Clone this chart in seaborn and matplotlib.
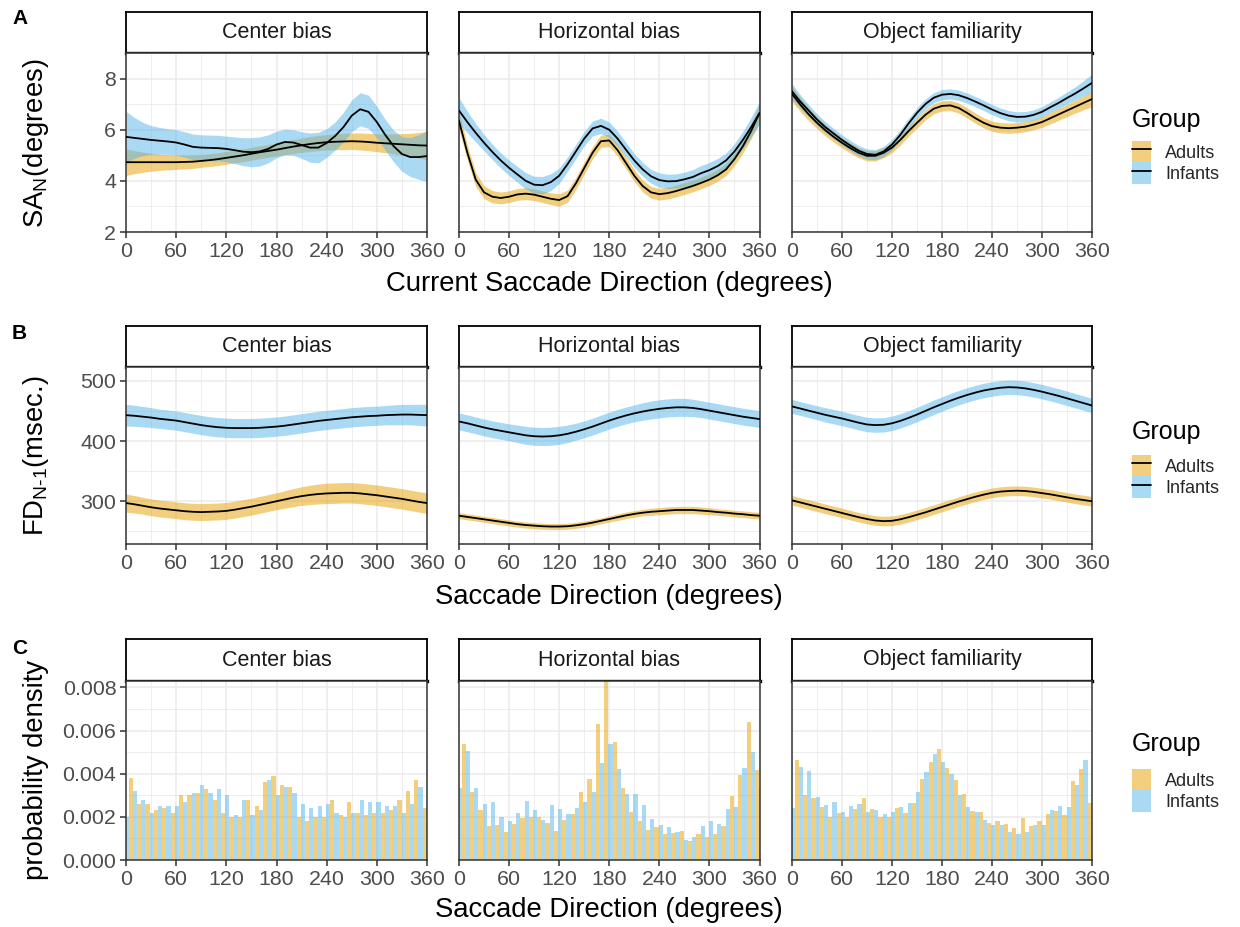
import numpy as np
import pandas as pd
import matplotlib
matplotlib.use("Agg")
import matplotlib.pyplot as plt
import seaborn as sns
from matplotlib.patches import Patch
from matplotlib.lines import Line2D
from matplotlib.legend_handler import HandlerTuple
from matplotlib.ticker import FixedLocator

# ---------------------------------------------------------------- data
FACETS = ["Center bias", "Horizontal bias", "Object familiarity"]
GROUPS = ["Adults", "Infants"]
X_DEG = list(range(0, 361, 10))

# Row A : SA_N (degrees)   mean and half-width of ribbon
A_CB_ADU = [4.73, 4.73, 4.73, 4.73, 4.73, 4.73, 4.73, 4.74, 4.75, 4.78,
            4.81, 4.85, 4.90, 4.95, 5.00, 5.06, 5.12, 5.17, 5.22, 5.28,
            5.34, 5.39, 5.44, 5.48, 5.51, 5.53, 5.54, 5.55, 5.54, 5.52,
            5.49, 5.47, 5.45, 5.43, 5.41, 5.39, 5.38]
A_CB_ADU_HW = [0.52, 0.45, 0.40, 0.35, 0.32, 0.30, 0.28, 0.27, 0.26, 0.25,
               0.25, 0.25, 0.25, 0.25, 0.25, 0.25, 0.25, 0.25, 0.25, 0.26,
               0.27, 0.28, 0.29, 0.30, 0.30, 0.31, 0.32, 0.32, 0.33, 0.34,
               0.35, 0.37, 0.39, 0.42, 0.45, 0.50, 0.55]
A_CB_INF = [5.72, 5.68, 5.64, 5.60, 5.57, 5.54, 5.50, 5.42, 5.33, 5.30,
            5.29, 5.28, 5.25, 5.20, 5.14, 5.12, 5.15, 5.25, 5.42, 5.52,
            5.50, 5.40, 5.30, 5.30, 5.48, 5.75, 6.10, 6.55, 6.80, 6.70,
            6.30, 5.80, 5.36, 5.05, 4.93, 4.93, 4.97]
A_CB_INF_HW = [1.00, 0.80, 0.65, 0.56, 0.52, 0.50, 0.50, 0.50, 0.50, 0.50,
               0.50, 0.50, 0.50, 0.52, 0.55, 0.57, 0.57, 0.55, 0.52, 0.50,
               0.50, 0.52, 0.57, 0.60, 0.56, 0.55, 0.58, 0.62, 0.65, 0.65,
               0.62, 0.60, 0.62, 0.68, 0.76, 0.87, 1.00]

A_HB_ADU = [6.35, 5.10, 4.05, 3.55, 3.38, 3.33, 3.38, 3.47, 3.50, 3.46,
            3.38, 3.30, 3.25, 3.40, 3.90, 4.50, 5.10, 5.55, 5.58, 5.20,
            4.70, 4.20, 3.80, 3.55, 3.48, 3.52, 3.60, 3.70, 3.80, 3.92,
            4.05, 4.22, 4.45, 4.85, 5.35, 5.95, 6.65]
A_HB_ADU_HW = [0.35, 0.30, 0.27, 0.25, 0.24, 0.23, 0.23, 0.23, 0.23, 0.23,
               0.23, 0.23, 0.24, 0.24, 0.24, 0.24, 0.24, 0.24, 0.24, 0.24,
               0.23, 0.23, 0.23, 0.23, 0.23, 0.23, 0.23, 0.23, 0.23, 0.23,
               0.23, 0.23, 0.24, 0.25, 0.27, 0.30, 0.35]
A_HB_INF = [6.75, 6.30, 5.88, 5.49, 5.13, 4.80, 4.51, 4.25, 4.00, 3.85,
            3.83, 3.95, 4.20, 4.65, 5.15, 5.65, 6.05, 6.15, 6.00, 5.65,
            5.22, 4.80, 4.45, 4.18, 4.03, 3.98, 3.99, 4.06, 4.15, 4.30,
            4.42, 4.58, 4.80, 5.15, 5.60, 6.10, 6.65]
A_HB_INF_HW = [0.50, 0.42, 0.36, 0.32, 0.30, 0.30, 0.30, 0.31, 0.32, 0.33,
               0.34, 0.33, 0.30, 0.28, 0.28, 0.28, 0.29, 0.30, 0.30, 0.29,
               0.28, 0.27, 0.27, 0.27, 0.28, 0.28, 0.28, 0.28, 0.29, 0.30,
               0.30, 0.30, 0.30, 0.31, 0.33, 0.38, 0.45]

A_OF_ADU = [7.40, 6.98, 6.60, 6.27, 5.98, 5.72, 5.49, 5.28, 5.10, 4.98,
            4.98, 5.10, 5.30, 5.60, 5.95, 6.27, 6.58, 6.82, 6.93, 6.95,
            6.85, 6.66, 6.45, 6.27, 6.14, 6.08, 6.06, 6.08, 6.12, 6.20,
            6.30, 6.45, 6.60, 6.75, 6.90, 7.05, 7.20]
A_OF_ADU_HW = [0.30, 0.27, 0.25, 0.23, 0.22, 0.21, 0.20, 0.20, 0.20, 0.20,
               0.20, 0.20, 0.20, 0.20, 0.20, 0.20, 0.20, 0.20, 0.20, 0.20,
               0.20, 0.20, 0.20, 0.20, 0.20, 0.20, 0.20, 0.20, 0.20, 0.20,
               0.21, 0.22, 0.23, 0.24, 0.25, 0.27, 0.30]
A_OF_INF = [7.50, 7.10, 6.75, 6.40, 6.10, 5.85, 5.60, 5.38, 5.18, 5.05,
            5.02, 5.15, 5.42, 5.80, 6.25, 6.66, 7.00, 7.25, 7.37, 7.40,
            7.35, 7.24, 7.10, 6.95, 6.79, 6.65, 6.55, 6.50, 6.51, 6.58,
            6.70, 6.88, 7.05, 7.24, 7.42, 7.62, 7.83]
A_OF_INF_HW = [0.30, 0.26, 0.23, 0.22, 0.21, 0.20, 0.20, 0.20, 0.20, 0.20,
               0.20, 0.20, 0.20, 0.20, 0.20, 0.20, 0.20, 0.20, 0.20, 0.20,
               0.20, 0.20, 0.20, 0.20, 0.20, 0.20, 0.20, 0.20, 0.20, 0.20,
               0.20, 0.21, 0.22, 0.24, 0.26, 0.30, 0.35]

# Row B : FD_{N-1} (msec.)
B_CB_ADU = [297, 295, 292.5, 290, 288, 286.5, 285, 283.5, 282.5, 282,
            282.5, 283, 284, 286, 288.5, 291, 294, 297, 300, 303,
            306, 308.5, 310.5, 312, 313, 313.5, 314, 314, 313, 311.5,
            310, 308, 306, 304, 301.5, 299, 297]
B_CB_ADU_HW = [15, 14.5, 14, 14, 14, 14, 14, 14, 14, 14,
               14, 14, 14, 14, 14, 14, 14, 14, 14, 14.5,
               15, 15.5, 16, 16.5, 17, 17, 17, 17, 17, 17,
               17, 17, 17, 17, 17, 17, 17]
B_CB_INF = [443, 442, 440.5, 439, 437, 435.5, 434, 431.5, 429, 426.5,
            424.5, 423, 422, 421.5, 421.5, 421.5, 422, 423, 424, 425.5,
            427.5, 429.5, 431.5, 433.5, 435, 436.5, 438, 439.5, 440.5, 441.5,
            442, 443, 443.5, 444, 444, 443.5, 443]
B_CB_INF_HW = [18, 17.5, 17, 16.5, 16, 16, 16, 16, 16, 16,
               16, 16, 16, 16, 16, 16, 16, 16, 16, 16,
               16, 16, 16, 16, 16, 16, 16, 16, 16, 16,
               16, 16, 16.5, 17, 17, 17.5, 18]

B_HB_ADU = [276, 274, 272, 270, 268, 266, 264, 262, 260.5, 259.5,
            258.5, 258, 258, 258.5, 260, 262, 264.5, 267.5, 270.5, 273.5,
            276.5, 279, 281, 282.5, 283.5, 284.5, 285.5, 285.5, 285.5, 284.5,
            283.5, 282, 281, 279.5, 278.5, 277, 276]
B_HB_ADU_HW = [5, 5, 5, 5, 5, 5, 5, 5, 5, 5,
               5, 5, 5, 5, 5, 5, 5, 5, 5, 5.5,
               5.5, 5.5, 5.5, 6, 6, 6, 6, 6, 6, 6,
               6, 5.5, 5.5, 5.5, 5.5, 5.5, 5.5]
B_HB_INF = [432.5, 429.5, 426, 422.5, 419.5, 417, 414.5, 412, 409.5, 408,
            407.5, 408, 409.5, 412, 415.5, 419.5, 424, 429, 434, 438.5,
            442.5, 446, 449, 451.5, 453.5, 455, 456, 456, 455, 453,
            450.5, 448, 445.5, 443, 440.5, 438.5, 436.5]
B_HB_INF_HW = [14, 14, 14, 14, 14, 14, 14, 14.5, 15, 15,
               15, 15, 15, 14.5, 14, 14, 14, 14, 14, 14,
               14, 14, 14.5, 15, 15, 15, 15, 15, 14.5, 14,
               14, 14, 14, 14, 14, 14, 14]

B_OF_ADU = [301.5, 298, 294.5, 291, 287.5, 284, 280.5, 277, 273.5, 270.5,
            268, 267, 267.5, 270, 273.5, 277.5, 281.5, 286, 290.5, 295,
            299.5, 303.5, 307.5, 311, 314, 316, 317, 317.5, 317, 315.5,
            313.5, 311.5, 309, 306.5, 304, 302, 300]
B_OF_ADU_HW = [8, 8, 8, 8, 8, 8, 8, 8, 8, 8,
               8, 8, 8, 8, 8, 8, 8, 8, 8, 8,
               8, 8, 8, 8, 8, 8, 8, 8, 8, 8,
               8, 8, 8, 8, 8, 8, 8]
B_OF_INF = [457.5, 454, 450.5, 447, 443.5, 440.5, 437.5, 434, 430.5, 427.5,
            426.5, 427, 429.5, 433.5, 438.5, 444, 450, 456, 461.5, 467,
            472, 476.5, 480.5, 484, 486.5, 488.5, 489.5, 489, 487.5, 485,
            482, 478.5, 475, 471, 467, 463, 459]
B_OF_INF_HW = [11.5, 11.5, 11.5, 11.5, 12, 12, 12, 12, 12, 12,
               12, 12, 12, 12, 12, 12, 12, 12, 12, 12,
               12, 12, 12, 12, 12, 12, 12, 12, 12, 12,
               12, 12, 12, 12, 12, 12, 12]

# Row C : histogram densities, bins of ~10 deg (first Adults / last Infants bins fall outside 0-360)
BIN_CENTERS = [-1.8 + 10.04 * k for k in range(37)]
C_CB_ADU = [0.0024, 0.0038, 0.0026, 0.0026, 0.0023, 0.0024, 0.0022, 0.0030, 0.0030, 0.0031,
            0.0033, 0.0028, 0.0022, 0.0020, 0.0020, 0.0028, 0.0025, 0.0036, 0.0039, 0.0035,
            0.0034, 0.0020, 0.0018, 0.0020, 0.0020, 0.0028, 0.0021, 0.0027, 0.0022, 0.0021,
            0.0022, 0.0022, 0.0023, 0.0028, 0.0032, 0.0037, 0.0024]
C_CB_INF = [0.0020, 0.0032, 0.0028, 0.0022, 0.0025, 0.0025, 0.0025, 0.0027, 0.0031, 0.0035,
            0.0031, 0.0033, 0.0030, 0.0021, 0.0028, 0.0021, 0.0023, 0.0037, 0.0030, 0.0034,
            0.0031, 0.0026, 0.0024, 0.0025, 0.0026, 0.0022, 0.0020, 0.0022, 0.0028, 0.0027,
            0.0027, 0.0025, 0.0025, 0.0022, 0.0026, 0.0034, 0.0020]
C_HB_ADU = [0.0042, 0.0054, 0.00313, 0.0023, 0.00156, 0.00162, 0.00131, 0.00167, 0.00193, 0.0020,
            0.0020, 0.00171, 0.00133, 0.00187, 0.00212, 0.00317, 0.00374, 0.0063, 0.0083, 0.00548,
            0.00332, 0.00222, 0.00182, 0.0014, 0.00154, 0.00119, 0.00124, 0.00133, 0.00088, 0.0012,
            0.00107, 0.00122, 0.00159, 0.00296, 0.00394, 0.0064, 0.00417]
C_HB_INF = [0.00332, 0.00505, 0.00335, 0.0026, 0.00267, 0.0020, 0.00182, 0.0022, 0.00273, 0.00232,
            0.00187, 0.00253, 0.00235, 0.00212, 0.00239, 0.00267, 0.00317, 0.00448, 0.0054, 0.00422,
            0.00304, 0.00304, 0.00253, 0.00188, 0.00164, 0.00154, 0.00131, 0.00093, 0.00105, 0.00157,
            0.00179, 0.00168, 0.00238, 0.00245, 0.00426, 0.00503, 0.0033]
C_OF_ADU = [0.0026, 0.00466, 0.0030, 0.00289, 0.00245, 0.0020, 0.00216, 0.0020, 0.00235, 0.00289,
            0.00235, 0.0020, 0.0020, 0.00239, 0.00216, 0.00266, 0.00374, 0.00454, 0.00513, 0.00425,
            0.0037, 0.00307, 0.00227, 0.00221, 0.00171, 0.00182, 0.00165, 0.00148, 0.00193, 0.00157,
            0.00181, 0.00212, 0.00225, 0.0021, 0.00367, 0.00423, 0.00262]
C_OF_INF = [0.00242, 0.00432, 0.00414, 0.00293, 0.00256, 0.0027, 0.00224, 0.00249, 0.00259, 0.00224,
            0.00233, 0.00212, 0.00221, 0.00245, 0.00262, 0.00315, 0.00406, 0.00491, 0.00455, 0.0040,
            0.0030, 0.00247, 0.00221, 0.00185, 0.00161, 0.00164, 0.0013, 0.0012, 0.0013, 0.00164,
            0.00164, 0.0023, 0.00252, 0.00247, 0.00346, 0.00463, 0.0024]

ROW_A = [((A_CB_ADU, A_CB_ADU_HW), (A_CB_INF, A_CB_INF_HW)),
         ((A_HB_ADU, A_HB_ADU_HW), (A_HB_INF, A_HB_INF_HW)),
         ((A_OF_ADU, A_OF_ADU_HW), (A_OF_INF, A_OF_INF_HW))]
ROW_B = [((B_CB_ADU, B_CB_ADU_HW), (B_CB_INF, B_CB_INF_HW)),
         ((B_HB_ADU, B_HB_ADU_HW), (B_HB_INF, B_HB_INF_HW)),
         ((B_OF_ADU, B_OF_ADU_HW), (B_OF_INF, B_OF_INF_HW))]
ROW_C = [(C_CB_ADU, C_CB_INF), (C_HB_ADU, C_HB_INF), (C_OF_ADU, C_OF_INF)]

X_TICKS = [0, 60, 120, 180, 240, 300, 360]

# ---------------------------------------------------------------- style
ORANGE = "#E69F00"
BLUE = "#56B4E9"
COLORS = {"Adults": ORANGE, "Infants": BLUE}

sns.set_theme(style="white")
plt.rcParams["font.family"] = ["Liberation Sans", "DejaVu Sans"]
plt.rcParams["mathtext.fontset"] = "custom"
plt.rcParams["mathtext.rm"] = "Liberation Sans"
plt.rcParams["mathtext.it"] = "Liberation Sans:italic"
plt.rcParams["mathtext.bf"] = "Liberation Sans:bold"

W, H = 1240, 927
fig = plt.figure(figsize=(W / 100, H / 100), dpi=100)
fig.patch.set_facecolor("white")


def box(x0, y0, x1, y1):
    return fig.add_axes([x0 / W, 1 - y1 / H, (x1 - x0) / W, (y1 - y0) / H])


COLS = [(126, 427), (459, 759.5), (792, 1092)]
ROWS = {"A": (12, 53, 232), "B": (326, 367, 544), "C": (639, 681, 860)}
TICK_FS = 15.4
TITLE_FS = 19.8


def strip(x0, x1, y0, y1, text):
    s = box(x0, y0, x1, y1)
    s.set_xticks([])
    s.set_yticks([])
    s.set_facecolor("white")
    for sp in s.spines.values():
        sp.set_visible(True)
        sp.set_color("black")
        sp.set_linewidth(1.3)
    s.spines["bottom"].set_linewidth(2.4)
    s.text(0.5, 0.5, text, ha="center", va="center", fontsize=15.5,
           color="#1A1A1A", transform=s.transAxes)


def style_panel(ax, ylim, yticks, yminor, ylabels, show_y):
    ax.set_facecolor("white")
    ax.set_xlim(0, 360)
    ax.set_ylim(*ylim)
    ax.set_xticks(X_TICKS)
    ax.set_xticklabels([str(v) for v in X_TICKS])
    ax.xaxis.set_minor_locator(FixedLocator([30, 90, 150, 210, 270, 330]))
    ax.set_yticks(yticks)
    ax.yaxis.set_minor_locator(FixedLocator(yminor))
    ax.grid(True, which="major", color="#EBEBEB", lw=1.1)
    ax.grid(True, which="minor", color="#EBEBEB", lw=0.6)
    ax.set_axisbelow(True)
    for sp in ax.spines.values():
        sp.set_visible(True)
        sp.set_color("#333333")
        sp.set_linewidth(1.1)
    ax.tick_params(which="major", direction="out", length=4, width=1.1,
                   color="#333333", labelsize=TICK_FS, labelcolor="#4D4D4D", pad=3)
    ax.tick_params(which="minor", length=0)
    ax.tick_params(axis="x", bottom=True, top=False)
    if show_y:
        ax.set_yticklabels(ylabels)
        ax.tick_params(axis="y", left=True, right=False)
    else:
        ax.tick_params(axis="y", which="both", left=False, labelleft=False)
    ax.set_xlabel("")
    ax.set_ylabel("")


def ribbon_panel(ax, series):
    for grp, (mean, hw) in zip(GROUPS, series):
        m = np.array(mean, dtype=float)
        h = np.array(hw, dtype=float)
        ax.fill_between(X_DEG, m - h, m + h, color=COLORS[grp], alpha=0.5,
                        lw=0, zorder=2)
        sns.lineplot(x=X_DEG, y=mean, color="black", linewidth=1.3, ax=ax,
                     zorder=3, errorbar=None)


LEG_KW = dict(loc="upper left", frameon=False, fontsize=13,
              handlelength=1.05, handleheight=1.45, labelspacing=0.0,
              handletextpad=0.8, borderpad=0, borderaxespad=0)


def ribbon_legend(y_title, y_keys):
    fig.text(1132 / W, 1 - y_title / H, "Group", ha="left", va="center",
             fontsize=18, color="black")
    handles = [(Patch(facecolor=COLORS[g], alpha=0.5, edgecolor="none"),
                Line2D([], [], color="black", lw=1.3)) for g in GROUPS]
    fig.legend(handles, GROUPS, bbox_to_anchor=(1132 / W, 1 - y_keys / H),
               handler_map={tuple: HandlerTuple(ndivide=1)}, **LEG_KW)


def bar_legend(y_title, y_keys):
    fig.text(1132 / W, 1 - y_title / H, "Group", ha="left", va="center",
             fontsize=18, color="black")
    handles = [Patch(facecolor=COLORS[g], alpha=0.5, edgecolor="none") for g in GROUPS]
    fig.legend(handles, GROUPS, bbox_to_anchor=(1132 / W, 1 - y_keys / H), **LEG_KW)


# ---------------------------------------------------------------- row A
st, pt, pb = ROWS["A"]
for i, (facet, series) in enumerate(zip(FACETS, ROW_A)):
    x0, x1 = COLS[i]
    strip(x0, x1, st, pt, facet)
    ax = box(x0, pt, x1, pb)
    ribbon_panel(ax, series)
    style_panel(ax, (2, 9), [2, 4, 6, 8], [3, 5, 7, 9], ["2", "4", "6", "8"], i == 0)

# ---------------------------------------------------------------- row B
st, pt, pb = ROWS["B"]
for i, (facet, series) in enumerate(zip(FACETS, ROW_B)):
    x0, x1 = COLS[i]
    strip(x0, x1, st, pt, facet)
    ax = box(x0, pt, x1, pb)
    ribbon_panel(ax, series)
    style_panel(ax, (229, 523), [300, 400, 500], [250, 350, 450],
                ["300", "400", "500"], i == 0)

# ---------------------------------------------------------------- row C
st, pt, pb = ROWS["C"]
for i, (facet, (adu, inf)) in enumerate(zip(FACETS, ROW_C)):
    x0, x1 = COLS[i]
    strip(x0, x1, st, pt, facet)
    ax = box(x0, pt, x1, pb)
    df = pd.DataFrame({
        "bin": BIN_CENTERS + BIN_CENTERS,
        "density": adu + inf,
        "Group": ["Adults"] * len(adu) + ["Infants"] * len(inf),
    })
    sns.barplot(data=df, x="bin", y="density", hue="Group", hue_order=GROUPS,
                palette=COLORS, native_scale=True, width=1.0, gap=0,
                dodge=True, saturation=1, linewidth=0, alpha=0.5,
                errorbar=None, legend=False, ax=ax, zorder=2)
    style_panel(ax, (0, 0.0083), [0, 0.002, 0.004, 0.006, 0.008],
                [0.001, 0.003, 0.005, 0.007],
                ["0.000", "0.002", "0.004", "0.006", "0.008"], i == 0)

# ---------------------------------------------------------------- texts
fig.text(609 / W, 1 - 284 / H, "Current Saccade Direction (degrees)",
         ha="center", va="center", fontsize=TITLE_FS, color="black")
fig.text(609 / W, 1 - 597 / H, "Saccade Direction (degrees)",
         ha="center", va="center", fontsize=TITLE_FS, color="black")
fig.text(609 / W, 1 - 910 / H, "Saccade Direction (degrees)",
         ha="center", va="center", fontsize=TITLE_FS, color="black")

fig.text(36 / W, 1 - 143 / H, r"SA$_{\mathregular{N}}$(degrees)", rotation=90,
         ha="center", va="center", fontsize=TITLE_FS, color="black")
fig.text(36 / W, 1 - 456 / H, r"FD$_{\mathregular{N\text{-}1}}$(msec.)", rotation=90,
         ha="center", va="center", fontsize=TITLE_FS, color="black")
fig.text(36 / W, 1 - 770 / H, "probability density", rotation=90,
         ha="center", va="center", fontsize=TITLE_FS, color="black")

for tag, y in (("A", 18), ("B", 333), ("C", 648)):
    fig.text(12 / W, 1 - y / H, tag, ha="left", va="center", fontsize=15,
             fontweight="bold", color="black")

ribbon_legend(120, 141)
ribbon_legend(432, 455)
bar_legend(744, 769)

fig.savefig("out.png", dpi=100, facecolor="white")
